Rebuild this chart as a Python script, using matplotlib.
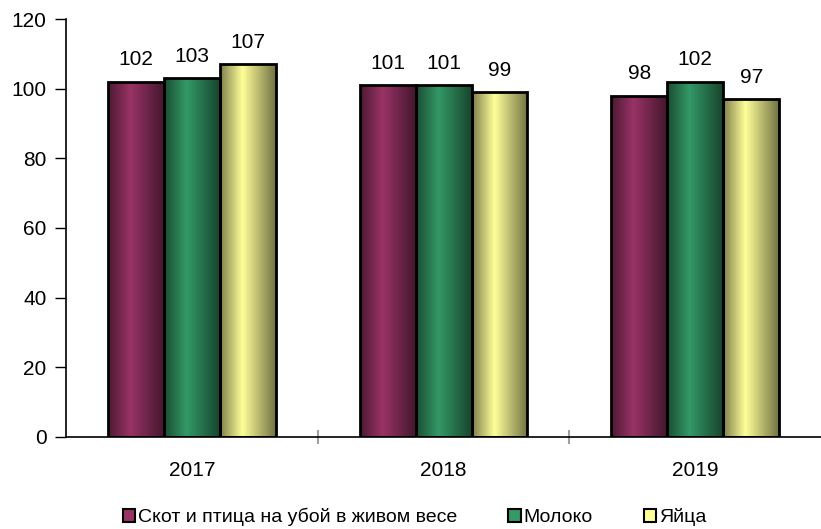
import numpy as np
import matplotlib
matplotlib.use('Agg')
import matplotlib.pyplot as plt
from matplotlib.patches import Patch
from matplotlib.colors import to_rgb

plt.rcParams['font.family'] = ['Liberation Sans', 'DejaVu Sans']

years = ['2017', '2018', '2019']
series_names = ['Скот и птица на убой в живом весе', 'Молоко', 'Яйца']
skot = [102, 101, 98]
moloko = [103, 101, 102]
yaitsa = [107, 99, 97]
colors = ['#993366', '#339966', '#ffff99']

fig = plt.figure(figsize=(8.21, 5.29), dpi=100)
ax = fig.add_axes([0.0804, 0.174, 0.9196, 0.79])

x = np.arange(len(years))
w = 0.2225

# профиль яркости "цилиндра": темно слева, светло на 40%, темно справа
t = np.linspace(0, 1, 64)
shade = np.where(t < 0.4, 0.5 + 0.5 * t / 0.4, 1.0 - 0.55 * (t - 0.4) / 0.6)

for i, (vals, col) in enumerate(zip([skot, moloko, yaitsa], colors)):
    bars = ax.bar(x + (i - 1) * w, vals, w, facecolor='none', edgecolor='black',
                  linewidth=2, zorder=3)
    base = np.array(to_rgb(col))
    img = (shade[:, None] * base[None, :])[None, :, :]
    for b in bars:
        im = ax.imshow(img, extent=[b.get_x(), b.get_x() + b.get_width(), 0, b.get_height()],
                       aspect='auto', zorder=2, interpolation='bilinear')
        im.set_clip_path(b)
    ax.bar_label(bars, padding=9, fontsize=15)

ax.set_xlim(-0.5, 2.5)
ax.set_ylim(0, 120)
ax.set_yticks(range(0, 121, 20))
ax.set_xticks(x)
ax.set_xticklabels(years, fontsize=15)
ax.tick_params(axis='y', labelsize=15, length=8, width=1, direction='out', pad=6)
ax.tick_params(axis='x', length=0, pad=17)
# засечки между категориями
ax.set_xticks([0.5, 1.5], minor=True)
ax.tick_params(axis='x', which='minor', length=10, direction='inout', color='#a0a0a0', width=1.5)

ax.spines['top'].set_visible(False)
ax.spines['right'].set_visible(False)
ax.spines['left'].set_linewidth(1.2)
ax.spines['bottom'].set_linewidth(1.2)

handles = [Patch(facecolor=c, edgecolor='black', linewidth=1.5) for c in colors]
fig.legend(handles, series_names, loc='lower center', bbox_to_anchor=(0.505, -0.028), ncol=3,
           frameon=False, fontsize=14, handlelength=0.65, handleheight=0.65,
           handletextpad=0.15, columnspacing=2.6)

fig.savefig('out.png', dpi=100)
